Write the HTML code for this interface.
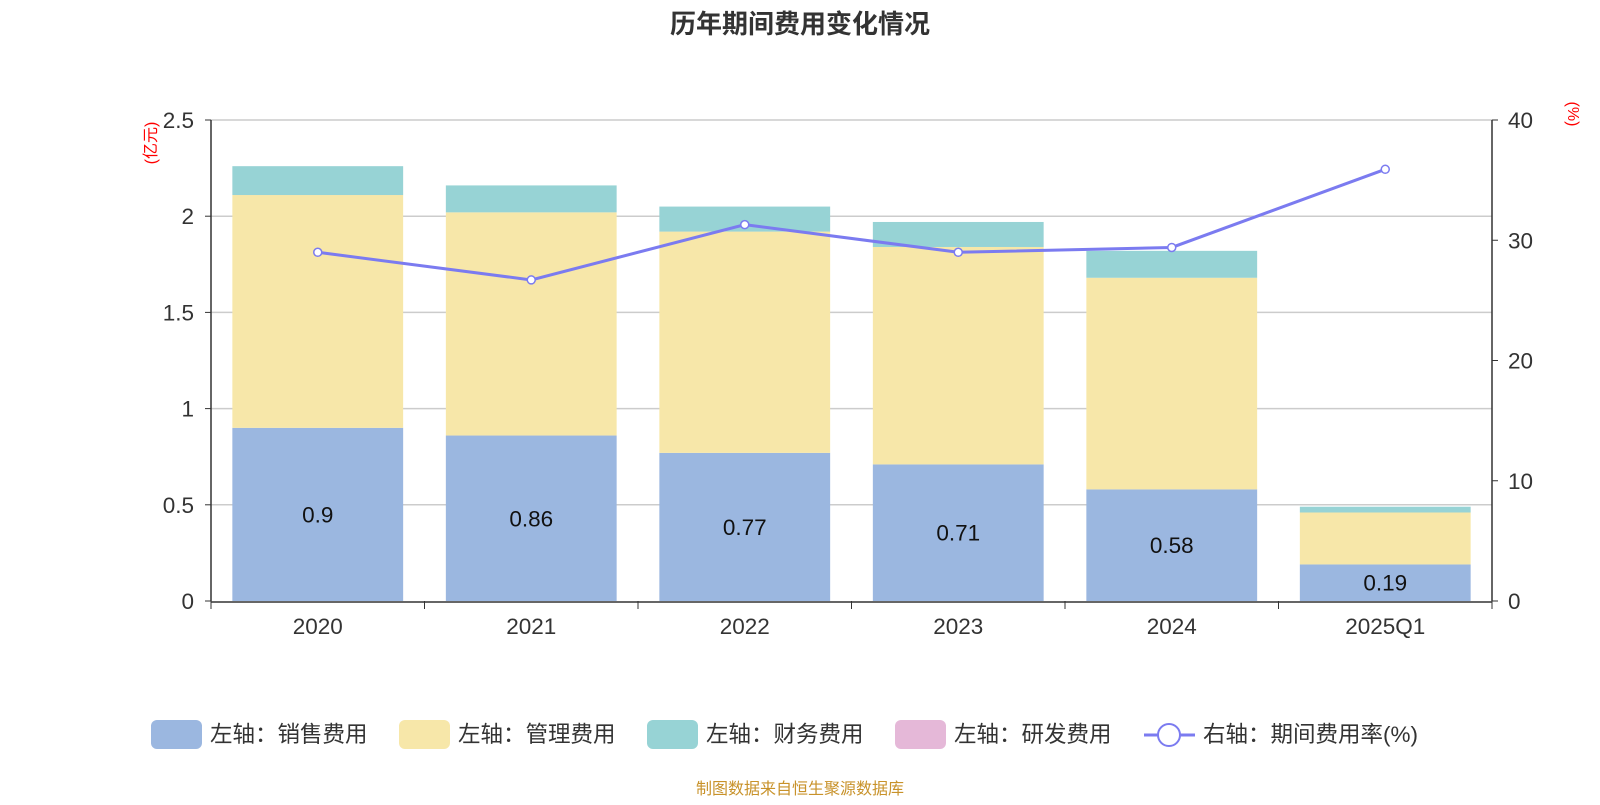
<!DOCTYPE html>
<html><head><meta charset="utf-8">
<style>
body{margin:0;background:#fff;width:1600px;height:800px;overflow:hidden;font-family:"Liberation Sans","Noto Sans CJK SC",sans-serif;}
svg text{font-family:"Liberation Sans","Noto Sans CJK SC",sans-serif;}
</style></head>
<body>
<svg id="chart" width="1600" height="800">
<text x="800" y="33" text-anchor="middle" font-size="26" font-weight="bold" fill="#333">历年期间费用变化情况</text>
<g id="grid"></g><g id="bars"></g><g id="axes"></g><g id="line"></g>
<g id="legend"></g>
<text x="800" y="794" text-anchor="middle" font-size="16" fill="#c8922a">制图数据来自恒生聚源数据库</text>
</svg>
<script>
const categories=["2020","2021","2022","2023","2024","2025Q1"];
const sales=[0.9,0.86,0.77,0.71,0.58,0.19];
const mgmt=[1.21,1.16,1.15,1.13,1.10,0.27];
const fin=[0.15,0.14,0.13,0.13,0.14,0.03];
const rnd=[0,0,0,0,0,0];
const rate=[29.0,26.7,31.3,29.0,29.4,35.9];
const leftTicks=["0","0.5","1","1.5","2","2.5"];
const rightTicks=["0","10","20","30","40"];
const NS="http://www.w3.org/2000/svg";
const X0=211,X1=1492,Y0=601,Y1=120;
const bw=(X1-X0)/categories.length;
const yL=v=>Y0-(v/2.5)*(Y0-Y1);
const yR=v=>Y0-(v/40)*(Y0-Y1);
const xC=i=>X0+bw*(i+0.5);
function mk(tag,attrs,parent,txt){const e=document.createElementNS(NS,tag);for(const k in attrs)e.setAttribute(k,attrs[k]);if(txt!==undefined)e.textContent=txt;document.getElementById(parent).appendChild(e);return e;}
leftTicks.forEach((t,i)=>{const v=parseFloat(t);const y=yL(v);
 if(v>0){const g=mk('line',{x1:X0,x2:X1,y1:y,y2:y,stroke:'#ccc','stroke-width':1.5},'grid');}
 const l=mk('text',{x:194,y:y+8,'text-anchor':'end','font-size':22.5,fill:'#333'},'axes',t);
 
 mk('line',{x1:X0-6,x2:X0,y1:y,y2:y,stroke:'#333'},'axes');});
rightTicks.forEach(t=>{const y=yR(parseFloat(t));
 const l=mk('text',{x:1508,y:y+8,'font-size':22.5,fill:'#333'},'axes',t);
 
 mk('line',{x1:X1,x2:X1+6,y1:y,y2:y,stroke:'#333'},'axes');});
mk('line',{x1:X0,x2:X0,y1:Y1,y2:Y0,stroke:'#333','stroke-width':1.5},'axes');
mk('line',{x1:X1,x2:X1,y1:Y1,y2:Y0,stroke:'#333','stroke-width':1.5},'axes');
mk('line',{x1:X0,x2:X1,y1:Y0+1,y2:Y0+1,stroke:'#333','stroke-width':1.5},'axes');
let t1=mk('text',{x:156,y:143,'font-size':16,fill:'red','text-anchor':'middle',transform:'rotate(-90 156 143)'},'axes','(亿元)');

let t2=mk('text',{x:1568,y:114,'font-size':16,fill:'red','text-anchor':'middle',transform:'rotate(90 1568 114)'},'axes','(%)');

for(let i=0;i<=categories.length;i++){const x=X0+bw*i;mk('line',{x1:x,x2:x,y1:Y0,y2:Y0+8,stroke:'#333'},'axes');}
categories.forEach((c,i)=>{
 const l=mk('text',{x:xC(i),y:634,'text-anchor':'middle','font-size':22.5,fill:'#333'},'axes',c);
 
 const w=bw*0.8,x=xC(i)-w/2;let base=0;
 [[sales,'#9bb7e0','sales'],[mgmt,'#f7e7a9','mgmt'],[fin,'#97d3d5','fin'],[rnd,'#e5b8d8','rnd']].forEach(([arr,col,n])=>{
  const v=arr[i];if(v<=0)return;
  const r=mk('rect',{x:x,y:yL(base+v),width:w,height:yL(base)-yL(base+v),fill:col},'bars');
  
  base+=v;});
 const lb=mk('text',{x:xC(i),y:(yL(0)+yL(sales[i]))/2+8,'text-anchor':'middle','font-size':22.5,fill:'#111'},'bars',String(sales[i]));
 
});
const pl=mk('polyline',{points:rate.map((v,i)=>xC(i)+','+yR(v)).join(' '),fill:'none',stroke:'#7b7bf0','stroke-width':3},'line');

rate.forEach((v,i)=>{const c=mk('circle',{cx:xC(i),cy:yR(v),r:4,fill:'#fff',stroke:'#7b7bf0','stroke-width':1.5},'line');
 });
const leg=[['左轴：销售费用','#9bb7e0',151],['左轴：管理费用','#f7e7a9',399],['左轴：财务费用','#97d3d5',647],['左轴：研发费用','#e5b8d8',895]];
leg.forEach(([t,c,x])=>{const r=mk('rect',{x:x,y:720,width:51,height:29,rx:6,fill:c},'legend');
 
 const tx=mk('text',{x:x+59,y:742,'font-size':22.5,fill:'#333'},'legend',t);
 });
mk('line',{x1:1144,x2:1195,y1:735,y2:735,stroke:'#7b7bf0','stroke-width':3},'legend');
mk('circle',{cx:1169,cy:735,r:11,fill:'#fff',stroke:'#7b7bf0','stroke-width':2},'legend');
const lt=mk('text',{x:1203,y:742,'font-size':22.5,fill:'#333'},'legend','右轴：期间费用率(%)');

</script>
</body></html>
